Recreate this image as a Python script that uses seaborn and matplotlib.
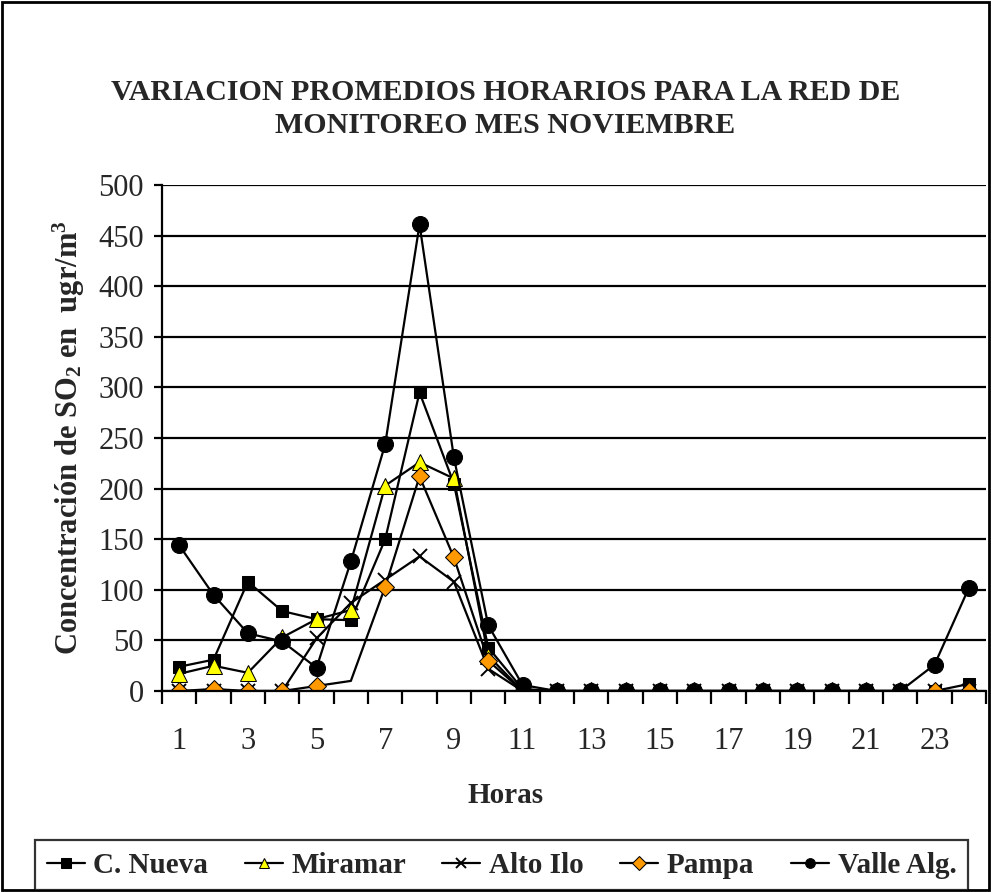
import matplotlib
matplotlib.use("Agg")
import matplotlib.pyplot as plt
import seaborn as sns
import pandas as pd
from matplotlib.patches import Rectangle

# =============================
# Data
# =============================
horas = list(range(1, 25))

c_nueva = [24, 31, 108, 79, 71, 70, 150, 295, 205, 43, 2, 0,
           0, 0, 0, 0, 0, 0, 0, 0, 0, 0, 0, 7]
miramar = [17, 25, 18, 53, 71, 80, 203, 226, 210, 35, 0, 0,
           0, 0, 0, 0, 0, 0, 0, 0, 0, 0, 0, 0]
alto_ilo = [0, 0, 0, 0, 52, 87, 110, 133, 108, 22, 0, 0,
            0, 0, 0, 0, 0, 0, 0, 0, 0, 0, 0, 0]
pampa = [0, 2, 0, 0, 5, 10, 103, 212, 132, 30, 0, 0,
         0, 0, 0, 0, 0, 0, 0, 0, 0, 0, 0, 0]
valle_alg = [144, 95, 57, 49, 23, 128, 244, 461, 231, 65, 6, 0,
             0, 0, 0, 0, 0, 0, 0, 0, 0, 0, 26, 102]

estaciones = ["C. Nueva", "Miramar", "Alto Ilo", "Pampa", "Valle Alg."]
valores = [c_nueva, miramar, alto_ilo, pampa, valle_alg]

# =============================
# Styles
# =============================
sns.set_style("white")
plt.rcParams["font.family"] = ["Liberation Serif", "DejaVu Serif"]
plt.rcParams["mathtext.fontset"] = "custom"
plt.rcParams["mathtext.rm"] = "Liberation Serif:bold"
plt.rcParams["mathtext.bf"] = "Liberation Serif:bold"
plt.rcParams["mathtext.default"] = "rm"

estilos = {
    "C. Nueva": dict(marker="s", markersize=9, markerfacecolor="black"),
    "Miramar": dict(marker="^", markersize=11.5, markerfacecolor="#FFFF00"),
    "Alto Ilo": dict(marker="x", markersize=10, markeredgewidth=1.4),
    "Pampa": dict(marker="D", markersize=9, markerfacecolor="#FF9900",
                  markevery=[i for i in range(24) if i != 5]),
    "Valle Alg.": dict(marker="o", markersize=11.5, markerfacecolor="black"),
}

# =============================
# Plot
# =============================
fig = plt.figure(figsize=(9.91, 8.92), dpi=100)
ax = fig.add_axes([0.1635, 0.2253, 0.8315, 0.5673])

for nombre, vals in zip(estaciones, valores):
    sns.lineplot(x=horas, y=vals, ax=ax, color="black", linewidth=1.6,
                 markeredgecolor="black", label=nombre, **estilos[nombre])

ax.set_xlim(0.5, 24.5)
ax.set_ylim(0, 500)
ax.set_yticks(range(0, 501, 50))
ax.set_xticks(range(1, 25, 2))
ax.set_xticklabels([str(h) for h in range(1, 25, 2)])
ax.set_xticks([h + 0.5 for h in range(0, 25)], minor=True)
ax.tick_params(axis="x", which="major", length=0, pad=26, labelsize=22)
ax.tick_params(axis="x", which="minor", length=9, width=1.6, direction="out",
               bottom=True, color="black")
ax.tick_params(axis="y", length=6, width=1.6, direction="out", left=True,
               pad=7, labelsize=22, color="black")

ax.grid(axis="y", color="black", linewidth=1.6)
ax.set_axisbelow(True)
for lado in ["top", "right"]:
    ax.spines[lado].set_visible(False)
for lado in ["left", "bottom"]:
    ax.spines[lado].set_color("black")
    ax.spines[lado].set_linewidth(1.6)

ax.set_xlabel("")
ax.set_ylabel(r"Concentración de SO$_{2}$ en  ugr/m$^{3}$",
              fontsize=22, fontweight="bold", labelpad=8)

fig.text(0.51, 0.108, "Horas", ha="center", va="center",
         fontsize=21, fontweight="bold")
fig.text(0.51, 0.878, "VARIACION PROMEDIOS HORARIOS PARA LA RED DE\nMONITOREO MES NOVIEMBRE",
         ha="center", va="center", fontsize=21.5, fontweight="bold", linespacing=1.3)

handles, labels = ax.get_legend_handles_labels()
ax.get_legend().remove()
leg = fig.legend(handles, labels, loc="center", bbox_to_anchor=(0.506, 0.03),
                 ncol=5, frameon=True, fancybox=False, handlelength=1.3,
                 handletextpad=0.3, columnspacing=1.25, borderpad=0.4,
                 borderaxespad=0, prop={"weight": "bold", "size": 21})
leg.get_frame().set_edgecolor("black")
leg.get_frame().set_linewidth(1.6)
for h in leg.legend_handles:
    h.set_markersize(7)

fig.patches.append(Rectangle((0.002, 0.002), 0.996, 0.996, transform=fig.transFigure,
                             fill=False, edgecolor="black", linewidth=2))

plt.savefig("out.png", dpi=100)
